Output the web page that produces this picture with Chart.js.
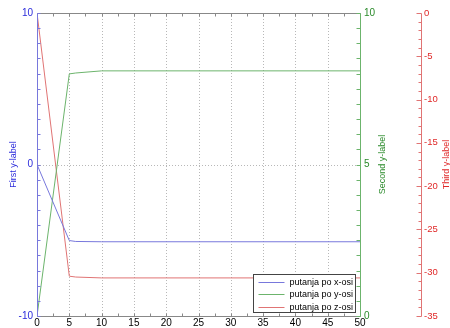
<!DOCTYPE html>
<html>
<head>
<meta charset="utf-8">
<script src="https://cdn.jsdelivr.net/npm/chart.js@4/dist/chart.umd.min.js"></script>
<style>
  html, body { margin: 0; padding: 0; background: #fff; }
</style>
</head>
<body>
<canvas id="chart" width="450" height="328"></canvas>
<script>
// sampled time steps and the three trajectories
const steps = [0, 5, 6, 10, 20, 30, 40, 50];
const xPath = [0, -5.02, -5.08, -5.1, -5.1, -5.1, -5.1, -5.1];
const yPath = [0, 7.99, 8.02, 8.09, 8.09, 8.09, 8.09, 8.09];
const zPath = [0, -30.4, -30.5, -30.6, -30.6, -30.6, -30.6, -30.6];

const seriesLabels = ['putanja po x-osi', 'putanja po y-osi', 'putanja po z-osi'];
const axisTitles = ['First y-label', 'Second y-label', 'Third y-label'];

const lineColors = ['#7878dc', '#6cb46c', '#e07474'];
const textColors = ['#2b2bdb', '#2a8a2a', '#e02828'];
const FONT = '"Liberation Sans", Arial, sans-serif';

function pts(ys) {
  return steps.map((s, i) => ({ x: s, y: ys[i] }));
}

/* ======================
   FRAME, TICKS, TITLES, LEGEND
====================== */
const decor = {
  id: 'decor',
  beforeDatasetsDraw(chart) {
    const { ctx, chartArea: a, scales } = chart;
    ctx.save();
    ctx.strokeStyle = '#b8b8b8';
    ctx.lineWidth = 1;
    ctx.setLineDash([1, 2]);
    ctx.beginPath();
    for (let v = 5; v < 50; v += 5) {
      const x = Math.round(scales.x.getPixelForValue(v)) + 0.5;
      ctx.moveTo(x, a.top); ctx.lineTo(x, a.bottom);
    }
    const y0 = Math.round(scales.y.getPixelForValue(0)) + 0.5;
    ctx.moveTo(a.left, y0); ctx.lineTo(a.right, y0);
    ctx.stroke();
    ctx.restore();
  },
  afterDatasetsDraw(chart) {
    const { ctx, chartArea: a, scales } = chart;
    const L = Math.round(a.left) + 0.5, R = Math.round(a.right) + 0.5;
    const T = Math.round(a.top) + 0.5, B = Math.round(a.bottom) + 0.5;
    const Z = Math.round(scales.y3.left) + 0.5;
    ctx.save();
    ctx.lineWidth = 1;

    // x ticks, top and bottom
    ctx.strokeStyle = '#888';
    ctx.beginPath();
    ctx.moveTo(L, T); ctx.lineTo(R, T);
    ctx.moveTo(L, B); ctx.lineTo(R, B);
    for (let v = 0; v <= 50; v += 2.5) {
      const x = Math.round(scales.x.getPixelForValue(v)) + 0.5;
      ctx.moveTo(x, B); ctx.lineTo(x, B - 3);
      ctx.moveTo(x, T); ctx.lineTo(x, T + 3);
    }
    ctx.stroke();

    // first axis
    ctx.strokeStyle = lineColors[0];
    ctx.beginPath();
    ctx.moveTo(L, T); ctx.lineTo(L, B);
    for (let v = -10; v <= 10; v += 1) {
      const y = Math.round(scales.y.getPixelForValue(v)) + 0.5;
      ctx.moveTo(L, y); ctx.lineTo(L + 3, y);
    }
    ctx.stroke();

    // second axis
    ctx.strokeStyle = lineColors[1];
    ctx.beginPath();
    ctx.moveTo(R, T); ctx.lineTo(R, B);
    for (let v = 0; v <= 10; v += 0.5) {
      const y = Math.round(scales.y2.getPixelForValue(v)) + 0.5;
      ctx.moveTo(R, y); ctx.lineTo(R - 4, y);
    }
    ctx.stroke();

    // third axis
    ctx.strokeStyle = lineColors[2];
    ctx.beginPath();
    ctx.moveTo(Z, T); ctx.lineTo(Z, B);
    for (let v = -35; v <= 0; v += 1) {
      const y = Math.round(scales.y3.getPixelForValue(v)) + 0.5;
      ctx.moveTo(Z, y); ctx.lineTo(Z - (v % 5 === 0 ? 5 : 3), y);
    }
    ctx.stroke();

    // axis titles, all reading bottom to top
    ctx.font = '9px ' + FONT;
    ctx.textAlign = 'center';
    ctx.textBaseline = 'middle';
    const midY = (a.top + a.bottom) / 2;
    [[14, 0], [scales.y2.left + 23, 1], [scales.y3.left + 26, 2]].forEach(([x, i]) => {
      ctx.save();
      ctx.translate(x, midY);
      ctx.rotate(-Math.PI / 2);
      ctx.fillStyle = textColors[i];
      ctx.fillText(axisTitles[i], 0, 0);
      ctx.restore();
    });

    // legend box, lower right inside the plot
    const w = 102, h = 38;
    const bx = Math.round(a.right - 5 - w) + 0.5;
    const by = Math.round(a.bottom - 4 - h) + 0.5;
    ctx.fillStyle = '#fff';
    ctx.fillRect(bx, by, w, h);
    ctx.strokeStyle = '#444';
    ctx.strokeRect(bx, by, w, h);
    ctx.textAlign = 'left';
    chart.data.datasets.forEach((ds, i) => {
      const ry = Math.round(by + 7 + i * 12.5) + 0.5;
      ctx.strokeStyle = ds.borderColor;
      ctx.beginPath();
      ctx.moveTo(bx + 5, ry); ctx.lineTo(bx + 31, ry);
      ctx.stroke();
      ctx.fillStyle = '#000';
      ctx.fillText(ds.label, bx + 36, ry);
    });
    ctx.restore();
  }
};

const fixW = w => s => { s.width = w; };

new Chart(document.getElementById('chart'), {
  type: 'line',
  data: {
    datasets: [
      { label: seriesLabels[0], data: pts(xPath), yAxisID: 'y', borderColor: lineColors[0] },
      { label: seriesLabels[1], data: pts(yPath), yAxisID: 'y2', borderColor: lineColors[1] },
      { label: seriesLabels[2], data: pts(zPath), yAxisID: 'y3', borderColor: lineColors[2] }
    ].map(d => ({ ...d, borderWidth: 1, pointRadius: 0, tension: 0, fill: false }))
  },
  options: {
    responsive: false,
    animation: false,
    layout: { padding: { top: 13, left: 0, right: 0, bottom: 0 } },
    plugins: { legend: { display: false }, tooltip: { enabled: false } },
    scales: {
      x: {
        type: 'linear', position: 'bottom', min: 0, max: 50,
        grid: { display: false, drawTicks: false }, border: { display: false },
        ticks: { stepSize: 5, autoSkip: false, maxRotation: 0, padding: 1, color: '#000', font: { size: 10, family: FONT } },
        afterFit: s => { s.height = 12; }
      },
      y: {
        position: 'left', min: -10, max: 10, weight: 0,
        grid: { display: false, drawTicks: false }, border: { display: false },
        ticks: { stepSize: 10, padding: 4, color: textColors[0], font: { size: 10, family: FONT } },
        afterFit: fixW(37)
      },
      y2: {
        position: 'right', min: 0, max: 10, weight: 0,
        grid: { display: false, drawTicks: false }, border: { display: false },
        ticks: { stepSize: 5, padding: 4, color: textColors[1], font: { size: 10, family: FONT } },
        afterFit: fixW(61)
      },
      y3: {
        position: 'right', min: -35, max: 0, weight: 1,
        grid: { display: false, drawTicks: false }, border: { display: false },
        ticks: { stepSize: 5, padding: 3, color: textColors[2], font: { size: 9.5, family: FONT } },
        afterFit: fixW(29)
      }
    }
  },
  plugins: [decor]
});
</script>
</body>
</html>
